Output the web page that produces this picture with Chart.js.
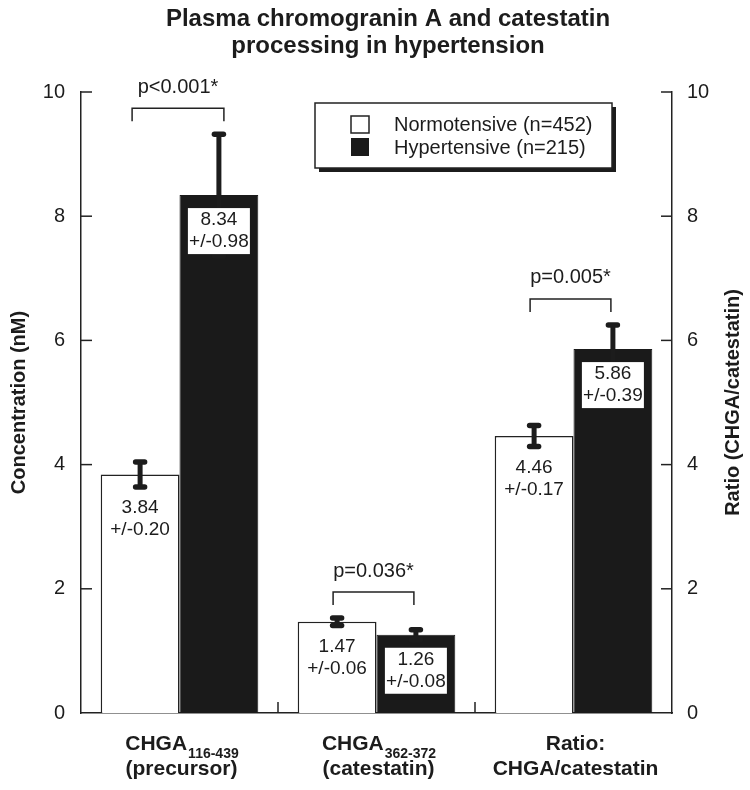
<!DOCTYPE html>
<html>
<head>
<meta charset="utf-8">
<script src="https://cdn.jsdelivr.net/npm/chart.js@4.4.1/dist/chart.umd.min.js"></script>
<style>
  html, body { margin: 0; padding: 0; background: #ffffff; }
  #wrap { width: 750px; height: 790px; }
</style>
</head>
<body>
<div id="wrap"><canvas id="c" width="750" height="790"></canvas></div>
<script>
// ---- Data ----
const categories = ['CHGA 116-439 (precursor)', 'CHGA 362-372 (catestatin)', 'Ratio: CHGA/catestatin'];
const catMain = ['CHGA', 'CHGA', 'Ratio:'];
const catSub = ['116-439', '362-372', ''];
const catLine2 = ['(precursor)', '(catestatin)', 'CHGA/catestatin'];
const normoValues = [3.84, 1.47, 4.46];
const normoErrors = [0.20, 0.06, 0.17];
const hyperValues = [8.34, 1.26, 5.86];
const hyperErrors = [0.98, 0.08, 0.39];
const pLabels = ['p<0.001*', 'p=0.036*', 'p=0.005*'];
const seriesNames = ['Normotensive (n=452)', 'Hypertensive (n=215)'];
const yTickValues = [0, 2, 4, 6, 8, 10];
const titleLines = ['Plasma chromogranin A and catestatin', 'processing in hypertension'];
const leftAxisTitle = 'Concentration (nM)';
const rightAxisTitle = 'Ratio (CHGA/catestatin)';

const FONT = "'Liberation Sans', Arial, Helvetica, sans-serif";
const INK = '#1c1c1c';
const BLACK_BAR = '#1a1a1a';

function fmt(v) { return v.toFixed(2); }

const overlay = {
  id: 'overlay',
  afterDatasetsDraw(chart) {
    const ctx = chart.ctx;
    const y = chart.scales.y;
    const errs = [normoErrors, hyperErrors];
    const vals = [normoValues, hyperValues];
    ctx.save();
    // error bars
    for (let d = 0; d < 2; d++) {
      const meta = chart.getDatasetMeta(d);
      meta.data.forEach((bar, i) => {
        const cx = bar.x;
        const yt = y.getPixelForValue(vals[d][i] + errs[d][i]);
        const yb = y.getPixelForValue(vals[d][i] - errs[d][i]);
        ctx.strokeStyle = INK;
        ctx.lineCap = 'butt';
        ctx.lineWidth = 5;
        ctx.beginPath(); ctx.moveTo(cx, yt); ctx.lineTo(cx, yb); ctx.stroke();
        ctx.lineCap = 'round';
        ctx.lineWidth = 5.5;
        ctx.beginPath(); ctx.moveTo(cx - 4.5, yt); ctx.lineTo(cx + 4.5, yt); ctx.stroke();
        ctx.beginPath(); ctx.moveTo(cx - 4.5, yb); ctx.lineTo(cx + 4.5, yb); ctx.stroke();
      });
    }
    // value labels
    ctx.textAlign = 'center';
    ctx.textBaseline = 'middle';
    ctx.font = '19px ' + FONT;
    const m0 = chart.getDatasetMeta(0), m1 = chart.getDatasetMeta(1);
    m0.data.forEach((bar, i) => {
      const yb = y.getPixelForValue(normoValues[i] - normoErrors[i]);
      ctx.fillStyle = INK;
      ctx.fillText(fmt(normoValues[i]), bar.x, yb + 21);
      ctx.fillText('+/-' + fmt(normoErrors[i]), bar.x, yb + 43);
    });
    m1.data.forEach((bar, i) => {
      const top = bar.y + 13;
      ctx.fillStyle = '#ffffff';
      ctx.fillRect(bar.x - 31, top, 62, 46);
      ctx.fillStyle = INK;
      ctx.fillText(fmt(hyperValues[i]), bar.x, top + 12);
      ctx.fillText('+/-' + fmt(hyperErrors[i]), bar.x, top + 34);
    });
    // significance brackets
    ctx.font = '20px ' + FONT;
    ctx.lineWidth = 1.5;
    ctx.lineCap = 'butt';
    ctx.strokeStyle = '#222';
    m0.data.forEach((bar, i) => {
      const b2 = m1.data[i];
      const errTop = Math.min(
        y.getPixelForValue(normoValues[i] + normoErrors[i]),
        y.getPixelForValue(hyperValues[i] + hyperErrors[i]));
      const legB = errTop - 13;
      const lineY = legB - 13;
      const x1 = bar.x - (i === 0 ? 8 : 4);
      const x2 = b2.x + (i === 0 ? 5 : -2);
      ctx.beginPath();
      ctx.moveTo(x1, legB); ctx.lineTo(x1, lineY); ctx.lineTo(x2, lineY); ctx.lineTo(x2, legB);
      ctx.stroke();
      ctx.fillStyle = INK;
      ctx.fillText(pLabels[i], (x1 + x2) / 2, lineY - 21);
    });
    ctx.restore();
  },
  afterDraw(chart) {
    const ctx = chart.ctx;
    const ca = chart.chartArea;
    const x = chart.scales.x, y = chart.scales.y;
    ctx.save();
    // inward ticks
    ctx.strokeStyle = '#222';
    ctx.lineWidth = 1.5;
    yTickValues.forEach(v => {
      const py = y.getPixelForValue(v);
      if (v === 0) return;
      ctx.beginPath(); ctx.moveTo(ca.left, py); ctx.lineTo(ca.left + 11, py); ctx.stroke();
      ctx.beginPath(); ctx.moveTo(ca.right, py); ctx.lineTo(ca.right - 11, py); ctx.stroke();
    });
    for (let i = 0; i < categories.length - 1; i++) {
      const px = (x.getPixelForValue(i) + x.getPixelForValue(i + 1)) / 2;
      ctx.beginPath(); ctx.moveTo(px, ca.bottom); ctx.lineTo(px, ca.bottom - 11); ctx.stroke();
    }
    // title
    ctx.fillStyle = INK;
    ctx.textAlign = 'center';
    ctx.textBaseline = 'middle';
    ctx.font = 'bold 24px ' + FONT;
    ctx.fillText(titleLines[0], 388, 19);
    ctx.fillText(titleLines[1], 388, 46);
    // axis titles
    ctx.font = 'bold 20px ' + FONT;
    const cy = (ca.top + ca.bottom) / 2;
    ctx.save(); ctx.translate(19, cy); ctx.rotate(-Math.PI / 2); ctx.fillText(leftAxisTitle, 0, 0); ctx.restore();
    ctx.save(); ctx.translate(733, cy); ctx.rotate(-Math.PI / 2); ctx.fillText(rightAxisTitle, 0, 0); ctx.restore();
    // category labels with subscripts
    categories.forEach((c, i) => {
      const px = x.getPixelForValue(i) + 2;
      ctx.font = 'bold 21px ' + FONT;
      const wMain = ctx.measureText(catMain[i]).width;
      ctx.font = 'bold 14px ' + FONT;
      const wSub = catSub[i] ? ctx.measureText(catSub[i]).width : 0;
      const start = px - (wMain + wSub) / 2;
      ctx.textAlign = 'left';
      ctx.font = 'bold 21px ' + FONT;
      ctx.fillText(catMain[i], start, 744);
      if (catSub[i]) {
        ctx.font = 'bold 14px ' + FONT;
        ctx.fillText(catSub[i], start + wMain + 1, 754);
      }
      ctx.textAlign = 'center';
      ctx.font = 'bold 21px ' + FONT;
      ctx.fillText(catLine2[i], px, 769);
    });
    // legend box with shadow
    const lx = 315, ly = 103, lw = 297, lh = 65;
    ctx.fillStyle = INK;
    ctx.fillRect(lx + 4, ly + 4, lw, lh);
    ctx.fillStyle = '#ffffff';
    ctx.fillRect(lx, ly, lw, lh);
    ctx.strokeStyle = '#222';
    ctx.lineWidth = 1.5;
    ctx.strokeRect(lx, ly, lw, lh);
    // legend items
    ctx.fillStyle = '#ffffff';
    ctx.fillRect(351, 116, 18, 17);
    ctx.strokeRect(351, 116, 18, 17);
    ctx.fillStyle = BLACK_BAR;
    ctx.fillRect(351, 138, 18, 18);
    ctx.fillStyle = INK;
    ctx.textAlign = 'left';
    ctx.font = '20px ' + FONT;
    ctx.fillText(seriesNames[0], 394, 125);
    ctx.fillText(seriesNames[1], 394, 148);
    ctx.restore();
  }
};

new Chart(document.getElementById('c'), {
  type: 'bar',
  data: {
    labels: categories,
    datasets: [
      { label: seriesNames[0], data: normoValues, backgroundColor: '#ffffff', borderColor: '#222', borderWidth: 1.5,
        categoryPercentage: 0.8, barPercentage: 1.0 },
      { label: seriesNames[1], data: hyperValues, backgroundColor: BLACK_BAR, borderColor: BLACK_BAR, borderWidth: 1,
        categoryPercentage: 0.8, barPercentage: 1.0 }
    ]
  },
  options: {
    responsive: false,
    devicePixelRatio: 1,
    animation: false,
    layout: { padding: { top: 92, left: 0, right: 0, bottom: 0 } },
    plugins: { legend: { display: false }, title: { display: false }, tooltip: { enabled: false } },
    scales: {
      x: {
        type: 'category',
        offset: true,
        grid: { display: false },
        border: { display: true, color: '#222', width: 1.5 },
        ticks: { display: false },
        afterFit(s) { s.height = 77; }
      },
      y: {
        position: 'left',
        min: 0, max: 10,
        afterBuildTicks(s) { s.ticks = yTickValues.map(v => ({ value: v })); },
        ticks: { font: { size: 20, family: FONT }, color: INK, padding: 8 },
        grid: { display: false },
        border: { display: true, color: '#222', width: 1.5 },
        afterFit(s) { s.width = 81; }
      },
      y2: {
        position: 'right',
        min: 0, max: 10,
        afterBuildTicks(s) { s.ticks = yTickValues.map(v => ({ value: v })); },
        ticks: { font: { size: 20, family: FONT }, color: INK, padding: 7 },
        grid: { display: false },
        border: { display: true, color: '#222', width: 1.5 },
        afterFit(s) { s.width = 78; }
      }
    }
  },
  plugins: [overlay]
});
</script>
</body>
</html>
